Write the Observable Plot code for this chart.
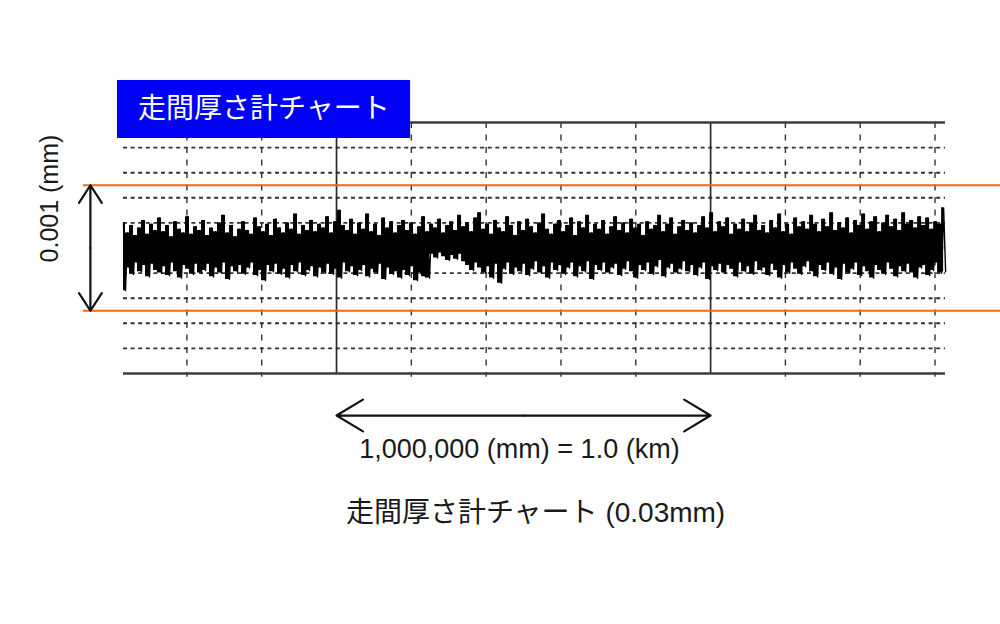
<!DOCTYPE html>
<html>
<head>
<meta charset="utf-8">
<script src="https://cdn.jsdelivr.net/npm/d3@7"></script>
<script src="https://cdn.jsdelivr.net/npm/@observablehq/plot@0.6"></script>
<style>
  html, body { margin: 0; padding: 0; background: #ffffff; }
  #chart { width: 1000px; height: 624px; }
</style>
</head>
<body>
<div id="chart"></div>
<script>
// ---- data (thickness deviation in µm, distance in km) ----
const majorKm = [0, 1];
const minorKm = [-0.4, -0.2, 0.2, 0.4, 0.6, 0.8, 1.2, 1.4, 1.6];
const rowsUm = [-0.8, -0.6, -0.4, -0.2, 0, 0.2, 0.4, 0.6, 0.8];
const toleranceUm = [-0.5, 0.5];
const frameUm = [-1, 1];

// sampled envelope of the thickness trace (upper / lower excursions, µm)
const hiVals = [
  0.20, 0.12, 0.18, 0.10, 0.16, 0.22, 0.11, 0.19, 0.14, 0.24,
  0.13, 0.18, 0.09, 0.21, 0.15, 0.12, 0.25, 0.11, 0.17, 0.14,
  0.22, 0.10, 0.16, 0.13, 0.20, 0.26, 0.12, 0.18, 0.09, 0.15,
  0.21, 0.14, 0.11, 0.24, 0.17, 0.13, 0.19, 0.10, 0.23, 0.16,
  0.12, 0.20, 0.15, 0.27, 0.11, 0.18, 0.14, 0.22, 0.13, 0.19,
  0.16, 0.25, 0.12, 0.21, 0.30, 0.18, 0.14, 0.23, 0.11, 0.20,
  0.15, 0.27, 0.13, 0.19, 0.10, 0.24, 0.16, 0.21, 0.12, 0.18,
  0.22, 0.14, 0.20, 0.11, 0.17, 0.25, 0.13, 0.19, 0.16, 0.23,
  0.12, 0.18, 0.21, 0.14, 0.26, 0.17, 0.20, 0.13, 0.24, 0.28,
  0.15, 0.19, 0.11, 0.22, 0.16, 0.13, 0.25, 0.18, 0.10, 0.21,
  0.14, 0.23, 0.17, 0.12, 0.20, 0.27, 0.15, 0.11, 0.19, 0.22,
  0.13, 0.18, 0.24, 0.10, 0.21, 0.16, 0.26, 0.12, 0.19, 0.15,
  0.22, 0.11, 0.17, 0.25, 0.14, 0.20, 0.12, 0.23, 0.16, 0.19,
  0.10, 0.21, 0.15, 0.18, 0.26, 0.13, 0.19, 0.24, 0.11, 0.17,
  0.22, 0.14, 0.20, 0.12, 0.18, 0.25, 0.16, 0.28, 0.13, 0.21,
  0.17, 0.24, 0.11, 0.19, 0.15, 0.23, 0.13, 0.20, 0.26, 0.14,
  0.18, 0.12, 0.22, 0.16, 0.27, 0.13, 0.19, 0.11, 0.24, 0.17,
  0.21, 0.15, 0.26, 0.19, 0.13, 0.23, 0.17, 0.28, 0.14, 0.20,
  0.16, 0.24, 0.12, 0.22, 0.18, 0.27, 0.15, 0.21, 0.25, 0.13,
  0.20, 0.26, 0.17, 0.23, 0.14, 0.28, 0.19, 0.22, 0.16, 0.25,
  0.18, 0.24, 0.15, 0.21, 0.19, 0.32
];
const loVals = [
  -0.34, -0.16, -0.21, -0.12, -0.19, -0.14, -0.23, -0.13, -0.18, -0.20,
  -0.15, -0.22, -0.12, -0.19, -0.24, -0.14, -0.17, -0.21, -0.13, -0.20,
  -0.18, -0.13, -0.23, -0.16, -0.20, -0.12, -0.25, -0.15, -0.19, -0.14,
  -0.21, -0.16, -0.12, -0.22, -0.18, -0.26, -0.14, -0.19, -0.13, -0.21,
  -0.17, -0.24, -0.14, -0.19, -0.12, -0.22, -0.18, -0.15, -0.23, -0.16,
  -0.20, -0.13, -0.21, -0.17, -0.24, -0.12, -0.19, -0.15, -0.22, -0.18,
  -0.14, -0.23, -0.17, -0.20, -0.13, -0.25, -0.16, -0.21, -0.19, -0.24,
  -0.18, -0.22, -0.15, -0.26, -0.20, -0.23, -0.24, -0.05, -0.08, -0.04,
  -0.07, -0.10, -0.06, -0.09, -0.05, -0.11, -0.14, -0.18, -0.12, -0.16,
  -0.20, -0.15, -0.24, -0.13, -0.28, -0.17, -0.12, -0.21, -0.16, -0.19,
  -0.13, -0.22, -0.17, -0.11, -0.20, -0.15, -0.24, -0.12, -0.18, -0.14,
  -0.21, -0.16, -0.12, -0.23, -0.15, -0.19, -0.11, -0.25, -0.14, -0.18,
  -0.12, -0.20, -0.16, -0.13, -0.22, -0.17, -0.11, -0.19, -0.24, -0.14,
  -0.18, -0.12, -0.21, -0.15, -0.10, -0.23, -0.16, -0.13, -0.20, -0.17,
  -0.11, -0.19, -0.14, -0.22, -0.16, -0.12, -0.25, -0.15, -0.18, -0.13,
  -0.20, -0.14, -0.17, -0.23, -0.12, -0.19, -0.15, -0.21, -0.11, -0.18,
  -0.16, -0.22, -0.13, -0.18, -0.24, -0.14, -0.20, -0.12, -0.17, -0.21,
  -0.15, -0.11, -0.19, -0.23, -0.14, -0.18, -0.12, -0.21, -0.16, -0.25,
  -0.13, -0.20, -0.17, -0.12, -0.22, -0.15, -0.19, -0.24, -0.14, -0.18,
  -0.21, -0.12, -0.17, -0.23, -0.15, -0.19, -0.13, -0.20, -0.24, -0.16,
  -0.14, -0.22, -0.18, -0.12, -0.20, -0.19
];
const traceStartKm = -0.5695;   // first sample position
const traceStepKm = 0.010695;   // sample spacing

const titleText = "走間厚さ計チャート";
const spanText = "1,000,000 (mm) = 1.0 (km)";
const captionText = "走間厚さ計チャート (0.03mm)";
const yLabelText = "0.001 (mm)";

// ---- tables built from the arrays ----
const samples = hiVals.map((h, i) => ({km: traceStartKm + i * traceStepKm, hi: h, lo: loVals[i]}));
const trace = samples.flatMap((s) => [
  {km: s.km, um: s.hi},
  {km: s.km + traceStepKm / 2, um: s.lo}
]);

const latin = "'Liberation Sans', Arial, 'Noto Sans CJK JP', sans-serif";
const orange = "#ef6a10";

const chart = Plot.plot({
  width: 1000,
  height: 624,
  marginLeft: 123,
  marginRight: 55,
  marginTop: 122,
  marginBottom: 251,
  x: {domain: [-0.5695, 1.628], axis: null},
  y: {domain: [-1, 1], axis: null},
  style: {background: "#ffffff", fontFamily: latin},
  marks: [
    // dotted horizontal grid
    Plot.ruleY(rowsUm, {stroke: "#333333", strokeWidth: 1.9, strokeDasharray: "4,3.6"}),
    // dashed minor verticals
    Plot.ruleX(minorKm, {y1: () => 1, y2: () => -1.03, stroke: "#333333", strokeWidth: 1.4, strokeDasharray: "6,6.5"}),
    // solid major verticals
    Plot.ruleX(majorKm, {stroke: "#2a2a2a", strokeWidth: 1.7}),
    // frame top / bottom
    Plot.ruleY(frameUm, {stroke: "#3c3c3c", strokeWidth: 2.4}),
    // thickness trace: dense band + thin spikes
    Plot.areaY(samples, {x: "km", y1: "lo", y2: "hi", curve: "step", fill: "#000000"}),
    Plot.line(trace, {x: "km", y: "um", stroke: "#000000", strokeWidth: 1.4}),
    // tolerance lines
    Plot.ruleY(toleranceUm, {x1: () => -0.6765, x2: () => 1.78, stroke: orange, strokeWidth: 2}),
    // vertical double arrow (0.001 mm)
    Plot.arrow([0.5, -0.5], {x1: () => -0.658, x2: () => -0.658, y1: () => 0, y2: d => d,
      stroke: "#111111", strokeWidth: 2.2, headLength: 20, headAngle: 66}),
    // horizontal double arrow (1 km)
    Plot.arrow(majorKm, {x1: () => 0.5, x2: d => d, y1: () => -1.335, y2: () => -1.335,
      stroke: "#111111", strokeWidth: 2.2, headLength: 21, headAngle: 62}),
    Plot.text([spanText], {x: () => 0.489, y: () => -1.605, text: d => d,
      fontSize: 27, fill: "#1a1a1a", fontFamily: latin}),
    Plot.text([captionText], {x: () => 0.532, y: () => -2.115, text: d => d,
      fontSize: 28, fill: "#1a1a1a", fontFamily: latin}),
    Plot.text([yLabelText], {x: () => -0.765, y: () => 0.394, text: d => d, rotate: -90,
      fontSize: 25, fill: "#1a1a1a", fontFamily: latin}),
    // title box
    Plot.rect([titleText], {x1: () => -0.5856, x2: () => 0.198, y1: () => 0.8725, y2: () => 1.335, fill: "#0000f5"}),
    Plot.text([titleText], {x: () => -0.194, y: () => 1.104, text: d => d,
      fontSize: 28, fill: "#ffffff", fontFamily: "'Noto Sans CJK JP', sans-serif"})
  ]
});
document.getElementById("chart").appendChild(chart);
</script>
</body>
</html>
